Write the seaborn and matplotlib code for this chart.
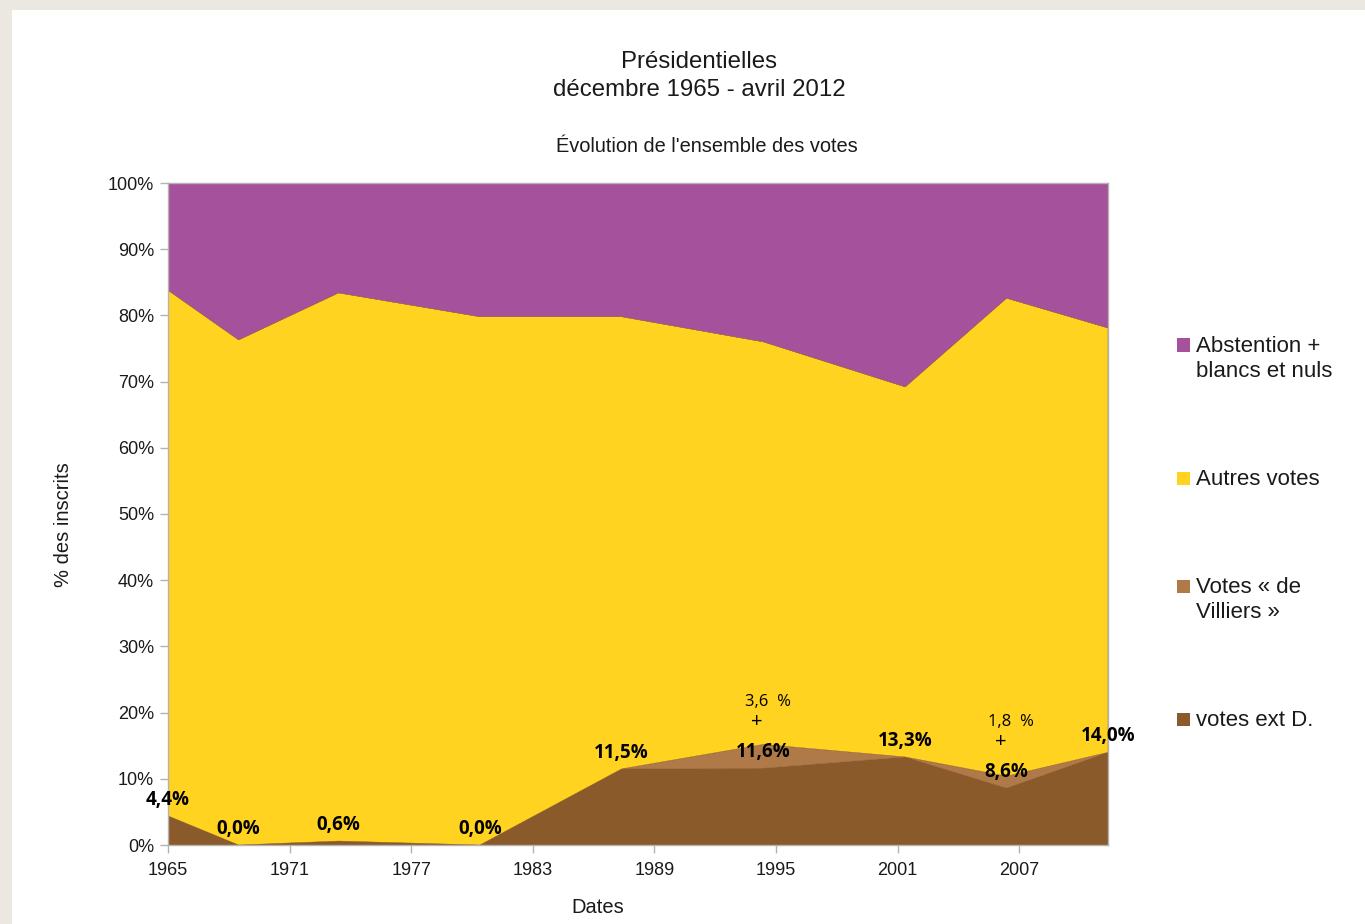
import numpy as np
import pandas as pd
import matplotlib
matplotlib.use("Agg")
import matplotlib.pyplot as plt
from matplotlib.patches import Rectangle
import seaborn as sns

# election dates (1st round) and shares of registered voters (%)
dates = ["1965-12-05", "1969-06-01", "1974-05-05", "1981-04-26", "1988-04-24",
         "1995-04-23", "2002-04-21", "2007-04-22", "2012-04-22"]
ext_d = [4.4, 0.0, 0.6, 0.0, 11.5, 11.6, 13.3, 8.6, 14.0]
villiers = [0.0, 0.0, 0.0, 0.0, 0.0, 3.6, 0.0, 1.8, 0.0]
autres = [79.4, 76.3, 82.8, 79.8, 68.3, 60.8, 55.9, 72.2, 64.1]
abstention = [16.2, 23.7, 16.6, 20.2, 20.2, 24.0, 30.8, 17.4, 21.9]

series_names = ["votes ext D.", "Votes « de\nVilliers »", "Autres votes",
                "Abstention +\nblancs et nuls"]
colors = ["#8b5a2b", "#b07a48", "#ffd320", "#a6519b"]
tick_years = [1965, 1971, 1977, 1983, 1989, 1995, 2001, 2007]

sns.set_theme(style="white")
plt.rcParams['font.family'] = ['Liberation Sans', 'DejaVu Sans']

W, H = 1365, 924
fig = plt.figure(figsize=(W / 100, H / 100), dpi=100)
fig.patch.set_facecolor("#ebe7e1")
fig.patches.append(Rectangle((12 / W, 0), 1, 1 - 10 / H, transform=fig.transFigure,
                             facecolor="white", edgecolor="none", zorder=0))

ax = fig.add_axes([168 / W, 1 - 845 / H, (1108 - 168) / W, (845 - 183) / H])
ax.set_zorder(2)

d = pd.to_datetime(dates)
x = np.array(d.year + (d.dayofyear - 1) / 365.25)

ax.stackplot(x, ext_d, villiers, autres, abstention, colors=colors,
             linewidth=0.3, edgecolors=colors)
ax.set_xlim(x[0], x[-1])
ax.set_ylim(0, 100)

ax.set_xticks([x[0] + (yr - tick_years[0]) for yr in tick_years])
ax.set_xticklabels([str(yr) for yr in tick_years])
ax.set_yticks(range(0, 101, 10))
ax.set_yticklabels([f"{v}%" for v in range(0, 101, 10)])
ax.tick_params(axis="both", which="both", direction="out", length=6, width=1,
               color="#b3b3b3", labelsize=13, labelcolor="#1a1a1a", pad=4,
               bottom=True, left=True)
ax.tick_params(axis="x", pad=6)
for side in ["left", "bottom", "right", "top"]:
    ax.spines[side].set_color("#b3b3b3")
    ax.spines[side].set_linewidth(1)
ax.grid(False)

ax.set_xlabel("Dates", fontsize=14.5, color="#1a1a1a")
ax.xaxis.set_label_coords((598 - 168) / (1108 - 168), -(898 - 845) / (845 - 183))
ax.set_ylabel("% des inscrits", fontsize=14.5, color="#1a1a1a")
ax.yaxis.set_label_coords(-(168 - 73) / (1108 - 168), (845 - 525) / (845 - 183))

label_font = ["Open Sans", "DejaVu Sans"]
# data labels for ext D.
for xi, v in zip(x, ext_d):
    ax.annotate(f"{v:.1f}%".replace(".", ","), (xi, v), xytext=(0, 11.5),
                textcoords="offset points", ha="center", va="center",
                fontsize=13.5, fontweight="bold", family=label_font,
                color="black", annotation_clip=False)
# Villiers additions
for xi, v, w in zip(x, ext_d, villiers):
    if w > 0:
        ax.annotate("+", (xi, v), xytext=(-4.5, 33), textcoords="offset points",
                    ha="center", va="center", fontsize=14.5, family=label_font,
                    color="black")
        ax.annotate(f"{w:.1f}  %".replace(".", ","), (xi, v), xytext=(3, 47.5),
                    textcoords="offset points", ha="center", va="center",
                    fontsize=12, family=label_font, color="black")

# titles
fig.text(699 / W, 1 - 76 / H, "Présidentielles\ndécembre 1965 - avril 2012",
         ha="center", va="center", fontsize=17.3, color="#1a1a1a", linespacing=1.35)
fig.text(707 / W, 1 - 147 / H, "Évolution de l'ensemble des votes",
         ha="center", va="center", fontsize=14.4, color="#1a1a1a")

# legend
legend_y = [719, 586, 478, 345]
for name, col, ly in zip(series_names, colors, legend_y):
    fig.patches.append(Rectangle((1177 / W, 1 - (ly + 6.5) / H), 13 / W, 13 / H,
                                 transform=fig.transFigure, facecolor=col,
                                 edgecolor="none"))
    fig.text(1196 / W, 1 - (ly - 9) / H, name, ha="left", va="top",
             fontsize=16, color="#1a1a1a", linespacing=1.25)

fig.savefig("out.png", dpi=100, facecolor=fig.get_facecolor())
